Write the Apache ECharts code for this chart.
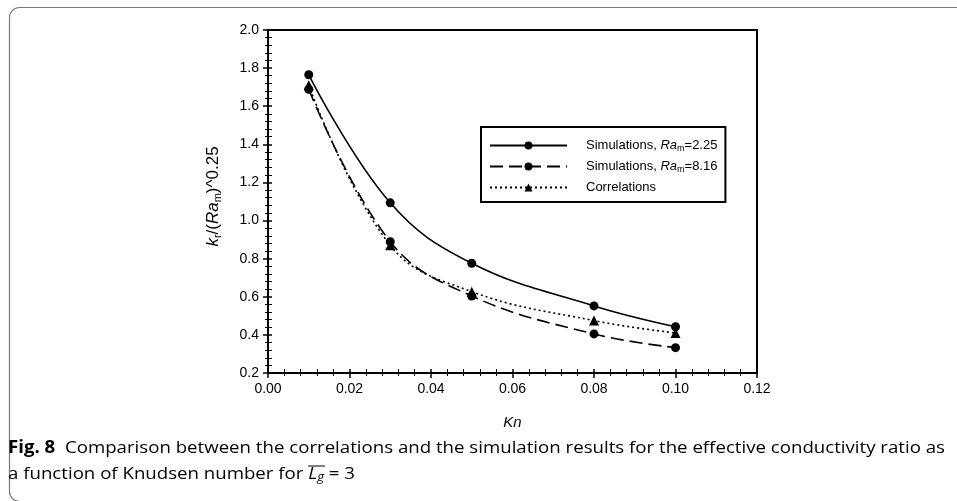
<!DOCTYPE html>
<html>
<head>
<meta charset="utf-8">
<script src="https://cdn.jsdelivr.net/npm/echarts@6/dist/echarts.min.js"></script>
<style>html,body{margin:0;padding:0;background:#fff;}#c{width:957px;height:501px;}</style>
</head>
<body>
<div id="c"></div>
<script>
const kn = [0.01, 0.03, 0.05, 0.08, 0.10];
const simRa225 = [1.765, 1.093, 0.776, 0.552, 0.443];
const simRa816 = [1.689, 0.889, 0.604, 0.405, 0.333];
const corr = [1.71, 0.87, 0.627, 0.475, 0.41];
const seriesNames = ['Simulations, Ra=2.25', 'Simulations, Ra=8.16', 'Correlations'];
const legendTexts = ['{g|}Simulations, {i|Ra}{s|m}=2.25', '{g|}Simulations, {i|Ra}{s|m}=8.16', '{g|}Correlations'];
const xTicks = {min: 0, max: 0.12, step: 0.02};
const yTicks = {min: 0.2, max: 2.0, step: 0.2};

const chart = echarts.init(document.getElementById('c'), null, {renderer: 'canvas'});
const pairs = arr => kn.map((k, i) => [k, arr[i]]);
const sans = 'Liberation Sans, Arial, sans-serif';
const axisFont = {fontFamily: sans, fontSize: 14, color: '#000'};
const capFont = 'Open Sans, sans-serif';

const capBold = 'Fig. 8';
const line1 = '  Comparison between the correlations and the simulation results for the effective conductivity ratio as';
const line2pre = 'a function of Knudsen number for ';

function measure(txt, font) {
  const c = document.createElement('canvas').getContext('2d');
  c.font = font; return c.measureText(txt).width;
}
const capSize = 17;
const w1 = measure(capBold, 'bold ' + capSize + 'px ' + capFont) + measure(line1, capSize + 'px ' + capFont);
const capScale = 937 / w1;
const preW = measure(line2pre, capSize + 'px ' + capFont) * capScale;
const LW = measure('L', 'italic ' + capSize + 'px ' + capFont) * capScale;
const gW = measure('g', 'italic 12px ' + capFont) * capScale;
const cx0 = 8;

function baseX(extra) {
  return Object.assign({
    type: 'value', min: xTicks.min, max: xTicks.max, interval: xTicks.step,
    splitLine: {show: false}
  }, extra);
}
function baseY(extra) {
  return Object.assign({
    type: 'value', min: yTicks.min, max: yTicks.max, interval: yTicks.step,
    splitLine: {show: false}
  }, extra);
}

const option = {
  animation: false,
  backgroundColor: '#fff',
  grid: {left: 268, right: 200, top: 30, bottom: 128, show: true, borderColor: '#000', borderWidth: 2, backgroundColor: 'transparent'},
  legend: {
    orient: 'vertical', left: 481, top: 127, padding: [12, 8, 8, 8],
    borderColor: '#000', borderWidth: 2, itemWidth: 77, itemHeight: 10, itemGap: 6.5,
    data: seriesNames,
    formatter: name => legendTexts[seriesNames.indexOf(name)],
    textStyle: {
      fontFamily: sans, fontSize: 13, color: '#000',
      rich: {
        g: {width: 14},
        i: {fontStyle: 'italic', fontSize: 13, fontFamily: sans},
        s: {fontSize: 9, padding: [7, 0, 0, 0], fontFamily: sans}
      }
    }
  },
  xAxis: [
    baseX({
      position: 'bottom',
      axisLine: {show: true, lineStyle: {color: '#000', width: 2}},
      axisTick: {show: true, length: 5, lineStyle: {color: '#000', width: 1.5}},
      minorTick: {show: true, splitNumber: 5, length: 3, lineStyle: {color: '#000', width: 1}},
      axisLabel: Object.assign({margin: 9, formatter: v => v.toFixed(2)}, axisFont),
      name: 'Kn', nameLocation: 'middle', nameGap: 42,
      nameTextStyle: {fontFamily: sans, fontSize: 15, fontStyle: 'italic', color: '#000'}
    }),
    baseX({
      position: 'bottom', gridIndex: 0,
      axisLine: {show: false},
      axisTick: {show: true, inside: true, length: 4, lineStyle: {color: '#000', width: 1.5}},
      minorTick: {show: true, splitNumber: 5, length: 4, lineStyle: {color: '#000', width: 1}},
      axisLabel: {show: false}
    })
  ],
  yAxis: [
    baseY({
      position: 'left',
      axisLine: {show: true, lineStyle: {color: '#000', width: 2}},
      axisTick: {show: true, length: 5, lineStyle: {color: '#000', width: 1.5}},
      minorTick: {show: true, splitNumber: 5, length: 3, lineStyle: {color: '#000', width: 1}},
      axisLabel: Object.assign({margin: 9, formatter: v => v.toFixed(1)}, axisFont),
      name: '{i|k}{s|r}{n|/(}{i|Ra}{s|m}{n|)^0.25}', nameLocation: 'middle', nameGap: 45, nameRotate: 90,
      nameTextStyle: {
        color: '#000', fontSize: 17, fontFamily: sans, padding: [0, 0, 0, 10],
        rich: {
          i: {fontStyle: 'italic', fontSize: 17, color: '#000', fontFamily: sans},
          n: {fontSize: 17, color: '#000', fontFamily: sans},
          s: {fontSize: 11, padding: [9, 0, 0, 0], color: '#000', fontFamily: sans}
        }
      }
    }),
    baseY({
      position: 'left', gridIndex: 0,
      axisLine: {show: false},
      axisTick: {show: true, inside: true, length: 4, lineStyle: {color: '#000', width: 1.5}},
      minorTick: {show: true, splitNumber: 5, length: 4, lineStyle: {color: '#000', width: 1}},
      axisLabel: {show: false}
    })
  ],
  series: [
    {
      name: seriesNames[0], type: 'line', data: pairs(simRa225), smooth: 0.4,
      symbol: 'circle', symbolSize: 9, itemStyle: {color: '#000'},
      lineStyle: {color: '#000', width: 1.6, type: 'solid'}, z: 3
    },
    {
      name: seriesNames[1], type: 'line', data: pairs(simRa816), smooth: 0.4,
      symbol: 'circle', symbolSize: 9, itemStyle: {color: '#000'},
      lineStyle: {color: '#000', width: 1.6, type: [13, 6]}, z: 3
    },
    {
      name: seriesNames[2], type: 'line', data: pairs(corr), smooth: 0.4,
      symbol: 'triangle', symbolSize: 10, itemStyle: {color: '#000'},
      lineStyle: {color: '#000', width: 1.6, type: [2, 3]}, z: 2
    }
  ],
  graphic: [
    {type: 'rect', left: 7, top: 5, shape: {width: 1000, height: 494, r: 10}, style: {fill: 'none', stroke: '#7a7a7a', lineWidth: 1.2}, silent: true},
    {type: 'text', x: cx0, y: 440, scaleX: capScale, style: {
      text: '{b|' + capBold + '}' + line1, font: capSize + 'px ' + capFont, fill: '#000',
      rich: {b: {fontWeight: 'bold', fontSize: capSize, fontFamily: capFont}}
    }},
    {type: 'text', x: cx0, y: 465, scaleX: capScale, style: {
      text: line2pre + '{i|L}{is|g} = 3', font: capSize + 'px ' + capFont, fill: '#000',
      rich: {
        i: {fontStyle: 'italic', fontSize: capSize, fontFamily: capFont},
        is: {fontStyle: 'italic', fontSize: 12, fontFamily: capFont, padding: [7, 0, 0, 0]}
      }
    }},
    {type: 'line', shape: {x1: cx0 + preW, y1: 466, x2: cx0 + preW + LW + gW + 1, y2: 466}, style: {stroke: '#000', lineWidth: 1}}
  ]
};
chart.setOption(option);
</script>
</body>
</html>
